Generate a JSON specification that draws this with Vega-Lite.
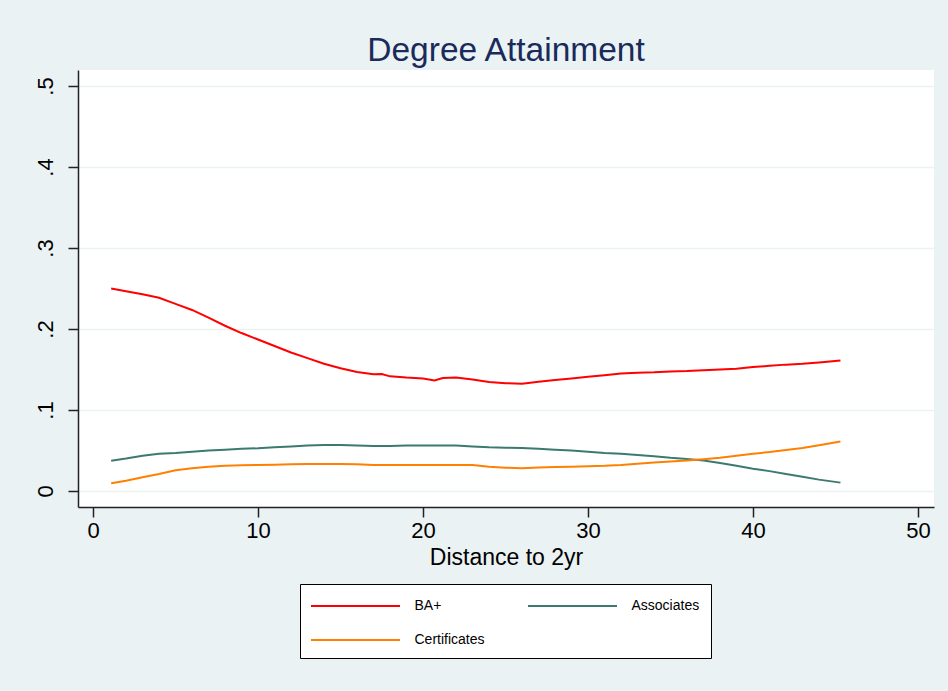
{
  "$schema": "https://vega.github.io/schema/vega-lite/v6.json",
  "autosize": {"type": "none"},
  "width": 856,
  "height": 437,
  "padding": {"left": 78, "top": 70, "right": 14, "bottom": 184},
  "title": {"text": "Degree Attainment", "fontSize": 33.5, "font": "Liberation Sans", "fontWeight": "normal", "color": "#1a2a5a", "baseline": "alphabetic", "offset": -24, "anchor": "middle"},
  "datasets": {
    "curves": [
      {"s":"BA+","x":1.1,"y":0.250},{"s":"BA+","x":2,"y":0.2465},{"s":"BA+","x":3,"y":0.243},{"s":"BA+","x":4,"y":0.2385},{"s":"BA+","x":5,"y":0.231},{"s":"BA+","x":6,"y":0.2235},{"s":"BA+","x":7,"y":0.214},{"s":"BA+","x":8,"y":0.204},{"s":"BA+","x":9,"y":0.195},{"s":"BA+","x":10,"y":0.187},{"s":"BA+","x":11,"y":0.179},{"s":"BA+","x":12,"y":0.171},{"s":"BA+","x":13,"y":0.164},{"s":"BA+","x":14,"y":0.157},{"s":"BA+","x":15,"y":0.1515},{"s":"BA+","x":16,"y":0.147},{"s":"BA+","x":17,"y":0.144},{"s":"BA+","x":17.5,"y":0.1445},{"s":"BA+","x":18,"y":0.1415},{"s":"BA+","x":19,"y":0.140},{"s":"BA+","x":20,"y":0.139},{"s":"BA+","x":20.7,"y":0.1365},{"s":"BA+","x":21.2,"y":0.1395},{"s":"BA+","x":22,"y":0.140},{"s":"BA+","x":23,"y":0.1375},{"s":"BA+","x":24,"y":0.1345},{"s":"BA+","x":25,"y":0.133},{"s":"BA+","x":26,"y":0.1325},{"s":"BA+","x":27,"y":0.135},{"s":"BA+","x":28,"y":0.137},{"s":"BA+","x":29,"y":0.139},{"s":"BA+","x":30,"y":0.141},{"s":"BA+","x":31,"y":0.143},{"s":"BA+","x":32,"y":0.145},{"s":"BA+","x":33,"y":0.146},{"s":"BA+","x":34,"y":0.1465},{"s":"BA+","x":35,"y":0.1475},{"s":"BA+","x":36,"y":0.148},{"s":"BA+","x":37,"y":0.149},{"s":"BA+","x":38,"y":0.150},{"s":"BA+","x":39,"y":0.151},{"s":"BA+","x":40,"y":0.153},{"s":"BA+","x":41,"y":0.1545},{"s":"BA+","x":42,"y":0.156},{"s":"BA+","x":43,"y":0.157},{"s":"BA+","x":44,"y":0.1585},{"s":"BA+","x":45.3,"y":0.161},
      {"s":"Associates","x":1.1,"y":0.0374},{"s":"Associates","x":2,"y":0.040},{"s":"Associates","x":3,"y":0.0435},{"s":"Associates","x":4,"y":0.046},{"s":"Associates","x":5,"y":0.047},{"s":"Associates","x":6,"y":0.0485},{"s":"Associates","x":7,"y":0.050},{"s":"Associates","x":8,"y":0.051},{"s":"Associates","x":9,"y":0.052},{"s":"Associates","x":10,"y":0.0527},{"s":"Associates","x":11,"y":0.054},{"s":"Associates","x":12,"y":0.055},{"s":"Associates","x":13,"y":0.0562},{"s":"Associates","x":14,"y":0.0568},{"s":"Associates","x":15,"y":0.0568},{"s":"Associates","x":16,"y":0.056},{"s":"Associates","x":17,"y":0.0555},{"s":"Associates","x":18,"y":0.0555},{"s":"Associates","x":19,"y":0.056},{"s":"Associates","x":20,"y":0.056},{"s":"Associates","x":21,"y":0.056},{"s":"Associates","x":22,"y":0.056},{"s":"Associates","x":23,"y":0.055},{"s":"Associates","x":24,"y":0.054},{"s":"Associates","x":25,"y":0.0535},{"s":"Associates","x":26,"y":0.053},{"s":"Associates","x":27,"y":0.052},{"s":"Associates","x":28,"y":0.051},{"s":"Associates","x":29,"y":0.050},{"s":"Associates","x":30,"y":0.0485},{"s":"Associates","x":31,"y":0.047},{"s":"Associates","x":32,"y":0.046},{"s":"Associates","x":33,"y":0.0445},{"s":"Associates","x":34,"y":0.043},{"s":"Associates","x":35,"y":0.041},{"s":"Associates","x":36,"y":0.0395},{"s":"Associates","x":37,"y":0.0375},{"s":"Associates","x":38,"y":0.0345},{"s":"Associates","x":39,"y":0.031},{"s":"Associates","x":40,"y":0.0275},{"s":"Associates","x":41,"y":0.0245},{"s":"Associates","x":42,"y":0.021},{"s":"Associates","x":43,"y":0.0175},{"s":"Associates","x":44,"y":0.014},{"s":"Associates","x":45.3,"y":0.0103},
      {"s":"Certificates","x":1.1,"y":0.0095},{"s":"Certificates","x":2,"y":0.0125},{"s":"Certificates","x":3,"y":0.017},{"s":"Certificates","x":4,"y":0.021},{"s":"Certificates","x":5,"y":0.0255},{"s":"Certificates","x":6,"y":0.028},{"s":"Certificates","x":7,"y":0.030},{"s":"Certificates","x":8,"y":0.031},{"s":"Certificates","x":9,"y":0.0318},{"s":"Certificates","x":10,"y":0.032},{"s":"Certificates","x":11,"y":0.0325},{"s":"Certificates","x":12,"y":0.033},{"s":"Certificates","x":13,"y":0.0333},{"s":"Certificates","x":14,"y":0.0333},{"s":"Certificates","x":15,"y":0.0333},{"s":"Certificates","x":16,"y":0.033},{"s":"Certificates","x":17,"y":0.0322},{"s":"Certificates","x":18,"y":0.0322},{"s":"Certificates","x":19,"y":0.0322},{"s":"Certificates","x":20,"y":0.0322},{"s":"Certificates","x":21,"y":0.0322},{"s":"Certificates","x":22,"y":0.0322},{"s":"Certificates","x":23,"y":0.032},{"s":"Certificates","x":24,"y":0.030},{"s":"Certificates","x":25,"y":0.0288},{"s":"Certificates","x":26,"y":0.028},{"s":"Certificates","x":27,"y":0.029},{"s":"Certificates","x":28,"y":0.0295},{"s":"Certificates","x":29,"y":0.030},{"s":"Certificates","x":30,"y":0.0305},{"s":"Certificates","x":31,"y":0.031},{"s":"Certificates","x":32,"y":0.032},{"s":"Certificates","x":33,"y":0.0335},{"s":"Certificates","x":34,"y":0.035},{"s":"Certificates","x":35,"y":0.0365},{"s":"Certificates","x":36,"y":0.0375},{"s":"Certificates","x":37,"y":0.0392},{"s":"Certificates","x":38,"y":0.041},{"s":"Certificates","x":39,"y":0.0435},{"s":"Certificates","x":40,"y":0.046},{"s":"Certificates","x":41,"y":0.048},{"s":"Certificates","x":42,"y":0.0505},{"s":"Certificates","x":43,"y":0.053},{"s":"Certificates","x":44,"y":0.0565},{"s":"Certificates","x":45.3,"y":0.061}
    ]
  },
  "data": {"name": "curves"},
  "mark": {"type": "line", "strokeWidth": 2, "interpolate": "linear"},
  "encoding": {
    "x": {
      "field": "x", "type": "quantitative",
      "scale": {"domain": [-0.91, 50.97], "nice": false, "zero": false},
      "axis": {"values": [0, 10, 20, 30, 40, 50], "title": "Distance to 2yr", "grid": false, "labelPadding": 3, "titlePadding": 5}
    },
    "y": {
      "field": "y", "type": "quantitative",
      "scale": {"domain": [-0.0198, 0.5198], "nice": false, "zero": false},
      "axis": {"values": [0, 0.1, 0.2, 0.3, 0.4, 0.5], "title": null, "grid": true, "gridColor": "#EAF2F3", "gridWidth": 1.5, "labelAngle": -90, "labelAlign": "center", "labelBaseline": "alphabetic", "labelPadding": 16,
        "labelExpr": "datum.value == 0 ? '0' : replace(format(datum.value, '.1f'), '0.', '.')"}
    },
    "color": {
      "field": "s", "type": "nominal",
      "scale": {"domain": ["BA+", "Associates", "Certificates"], "range": ["#ff0000", "#3b7a70", "#ff8000"]},
      "legend": {"title": null, "orient": "none", "legendX": 222, "legendY": 514, "columns": 2, "columnPadding": 39, "rowPadding": 16, "padding": 11, "fillColor": "white", "strokeColor": "#000000", "symbolType": "M-4.45,0H4.45", "symbolSize": 400, "symbolStrokeWidth": 2, "symbolOffset": 33.5, "labelOffset": 48, "labelFontSize": 14, "labelColor": "#000000", "labelFont": "Liberation Sans", "values": ["BA+", "Certificates", "Associates"]}
    }
  },
  "config": {
    "background": "#EAF2F3",
    "font": "Liberation Sans",
    "view": {"fill": "white", "stroke": null},
    "axis": {"domainColor": "#222222", "domainWidth": 1.5, "tickColor": "#222222", "tickWidth": 1.5, "tickSize": 10, "labelFontSize": 22, "labelColor": "#000000", "titleFontSize": 23, "titleFontWeight": "normal", "titleColor": "#000000", "labelFont": "Liberation Sans", "titleFont": "Liberation Sans"}
  }
}
